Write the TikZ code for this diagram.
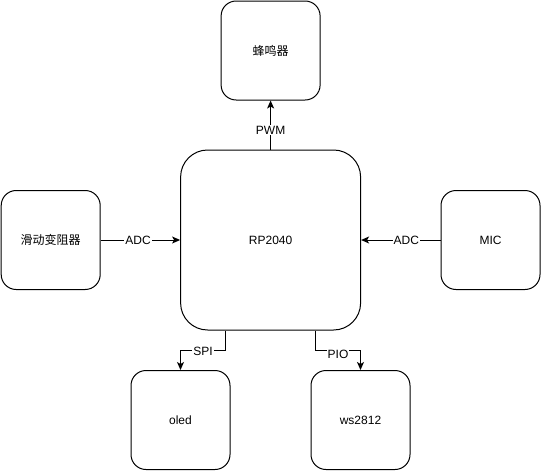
\documentclass[tikz,border=0pt]{standalone}
\usepackage{fontspec}
\setmainfont{Liberation Sans}
\newfontfamily\cjk{Noto Sans CJK SC}
\usetikzlibrary{arrows.meta,calc}
\begin{document}
\begin{tikzpicture}[x=1pt,y=-1pt,
  font=\fontsize{12pt}{14pt}\selectfont,
  box/.style={draw,line width=1pt,rounded corners=15pt,minimum width=99pt,minimum height=99pt,inner sep=0pt},
  bigbox/.style={draw,line width=1pt,rounded corners=27pt,minimum width=180pt,minimum height=180pt,inner sep=0pt},
  arr/.style={line width=1pt,-{Stealth[length=8pt,width=7pt,inset=2pt]}},
  lbl/.style={fill=white,inner sep=1pt}]
\useasboundingbox (0,0) rectangle (541,471);
\node[bigbox] (c) at (270.6,240) {RP2040};
\node[box] (b) at (270.6,50.5) {\cjk 蜂鸣器};
\node[box] (l) at (50.7,240) {\cjk 滑动变阻器};
\node[box] (m) at (490.5,240) {MIC};
\node[box] (o) at (180.5,420) {oled};
\node[box] (w) at (360.5,420) {ws2812};
\draw[arr] (c.north) -- node[lbl,pos=0.4]{PWM} (b.south);
\draw[arr] (l.east) -- node[lbl,pos=0.47]{ADC} (c.west);
\draw[arr] (m.west) -- node[lbl,pos=0.43]{ADC} (c.east);
\coordinate (s1) at ([xshift=-45pt]c.south);
\coordinate (p1) at ([xshift=45pt]c.south);
\draw[arr] (s1) -- ++(0,20) -| node[lbl,pos=0.25,yshift=-1pt]{SPI} (o.north);
\draw[arr] (p1) -- ++(0,20) -| node[lbl,pos=0.25,yshift=-4pt]{PIO} (w.north);
\end{tikzpicture}
\end{document}
